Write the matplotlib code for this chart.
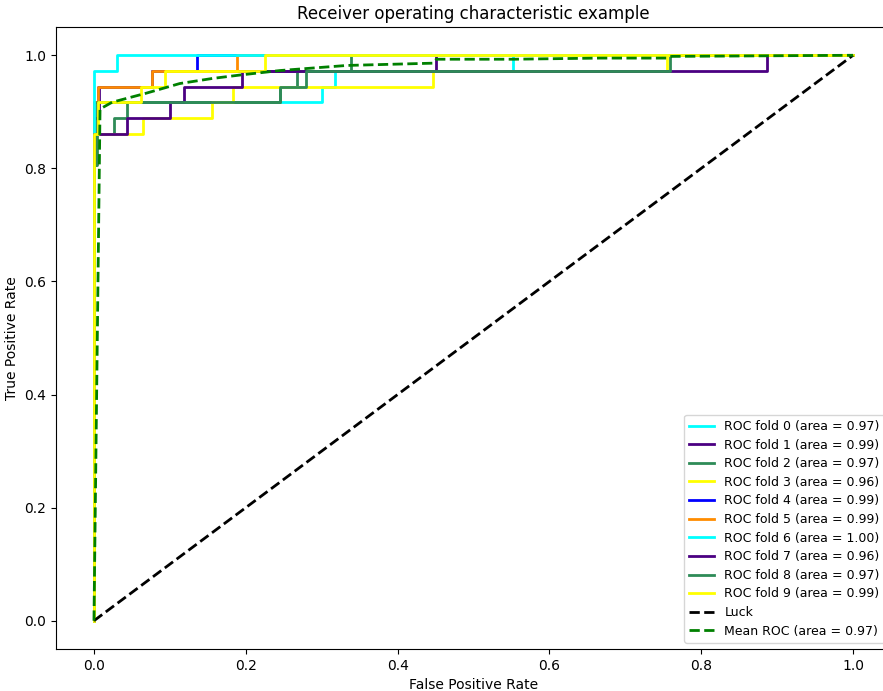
import numpy as np
import matplotlib.pyplot as plt

# ROC curves, one (fpr, tpr) step path per fold
fold_fpr = [
    [0, 0, 0.005, 0.005, 0.300, 0.300, 0.318, 0.318, 0.552, 0.552, 1],
    [0, 0, 0.007, 0.007, 0.077, 0.077, 0.450, 0.450, 1],
    [0, 0, 0.003, 0.003, 0.027, 0.027, 0.043, 0.043, 0.245, 0.245, 0.267, 0.267, 0.339, 0.339, 1],
    [0, 0, 0.064, 0.064, 0.156, 0.156, 0.183, 0.183, 0.446, 0.446, 0.755, 0.755, 1],
    [0, 0, 0.005, 0.005, 0.077, 0.077, 0.136, 0.136, 1],
    [0, 0, 0.005, 0.005, 0.077, 0.077, 0.188, 0.188, 1],
    [0, 0, 0.030, 0.030, 1],
    [0, 0, 0.043, 0.043, 0.100, 0.100, 0.119, 0.119, 0.195, 0.195, 0.887, 0.887, 1],
    [0, 0, 0.004, 0.004, 0.245, 0.245, 0.279, 0.279, 0.759, 0.759, 1],
    [0, 0, 0.005, 0.005, 0.062, 0.062, 0.093, 0.093, 0.225, 0.225, 1],
]
fold_tpr = [
    [0, 0.889, 0.889, 0.917, 0.917, 0.944, 0.944, 0.972, 0.972, 1, 1],
    [0, 0.889, 0.889, 0.944, 0.944, 0.972, 0.972, 1, 1],
    [0, 0.806, 0.806, 0.861, 0.861, 0.889, 0.889, 0.917, 0.917, 0.944, 0.944, 0.972, 0.972, 1, 1],
    [0, 0.861, 0.861, 0.889, 0.889, 0.917, 0.917, 0.944, 0.944, 0.972, 0.972, 1, 1],
    [0, 0.917, 0.917, 0.944, 0.944, 0.972, 0.972, 1, 1],
    [0, 0.917, 0.917, 0.944, 0.944, 0.972, 0.972, 1, 1],
    [0, 0.972, 0.972, 1, 1],
    [0, 0.861, 0.861, 0.889, 0.889, 0.917, 0.917, 0.944, 0.944, 0.972, 0.972, 1, 1],
    [0, 0.806, 0.806, 0.917, 0.917, 0.944, 0.944, 0.972, 0.972, 1, 1],
    [0, 0.861, 0.861, 0.917, 0.917, 0.944, 0.944, 0.972, 0.972, 1, 1],
]
fold_auc = [0.97, 0.99, 0.97, 0.96, 0.99, 0.99, 1.00, 0.96, 0.97, 0.99]
fold_colors = ['cyan', 'indigo', 'seagreen', 'yellow', 'blue', 'darkorange',
               'cyan', 'indigo', 'seagreen', 'yellow']

# mean ROC
mean_fpr = [0, 0.008, 0.024, 0.069, 0.113, 0.156, 0.192, 0.245, 0.333,
            0.446, 0.451, 0.552, 0.666, 0.755, 0.761, 1.0]
mean_tpr = [0, 0.905, 0.917, 0.933, 0.950, 0.959, 0.965, 0.973, 0.982,
            0.986, 0.993, 0.993, 0.995, 0.995, 0.998, 1.0]
mean_auc = 0.97

fig = plt.figure(figsize=(8.83, 6.91), dpi=100)
ax = fig.add_axes([56 / 883, 42 / 691, 835 / 883, 622 / 691])

for i in range(len(fold_fpr)):
    ax.plot(fold_fpr[i], fold_tpr[i], lw=2, color=fold_colors[i],
            label='ROC fold %d (area = %0.2f)' % (i, fold_auc[i]))

ax.plot([0, 1], [0, 1], linestyle='--', lw=2, color='k', label='Luck')
ax.plot(mean_fpr, mean_tpr, 'g--', lw=2,
        label='Mean ROC (area = %0.2f)' % mean_auc)

ax.set_xlim([-0.05, 1.05])
ax.set_ylim([-0.05, 1.05])
ax.set_xlabel('False Positive Rate')
ax.set_ylabel('True Positive Rate')
ax.set_title('Receiver operating characteristic example')
ax.legend(loc='lower right', fontsize=9, labelspacing=0.45)

fig.savefig('out.png', dpi=100)
